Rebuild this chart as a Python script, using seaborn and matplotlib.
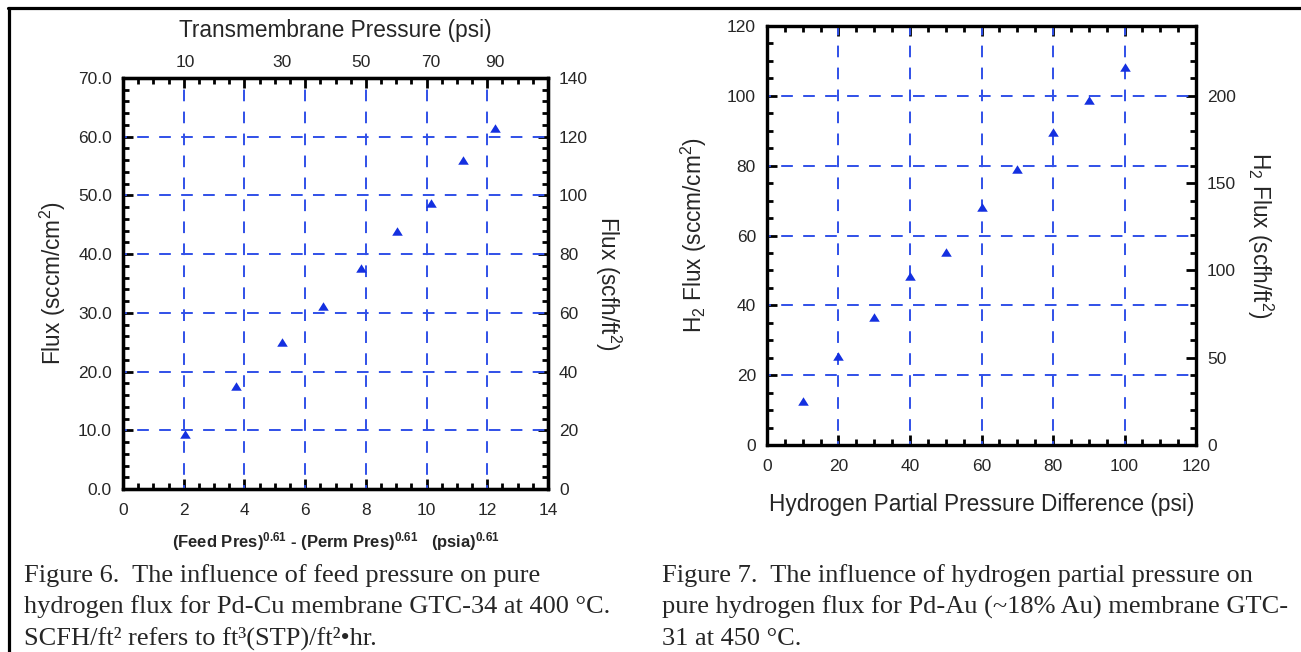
"""
Pd membrane hydrogen flux figures (Figure 6 / Figure 7) redrawn with seaborn
"""

import matplotlib
matplotlib.use('Agg')
import matplotlib.pyplot as plt
import seaborn as sns
import pandas as pd
from matplotlib.lines import Line2D
from matplotlib.ticker import MultipleLocator

sns.set_style('ticks')
plt.rcParams['font.family'] = ['Liberation Sans', 'DejaVu Sans']
plt.rcParams['mathtext.fontset'] = 'custom'
plt.rcParams['mathtext.rm'] = 'Liberation Sans'
plt.rcParams['mathtext.it'] = 'Liberation Sans:italic'
plt.rcParams['mathtext.bf'] = 'Liberation Sans:bold'

# ---------------- data ----------------
# Figure 6: Pd-Cu GTC-34, 400 C
fig6_psi = [10, 20, 30, 40, 50, 60, 70, 80, 90]              # transmembrane pressure
fig6_x = [2.05, 3.73, 5.25, 6.6, 7.85, 9.03, 10.15, 11.2, 12.25]  # (feed)^0.61-(perm)^0.61
fig6_flux = [9.3, 17.6, 25.0, 31.1, 37.6, 44.0, 48.7, 56.0, 61.4]  # sccm/cm2

# Figure 7: Pd-Au GTC-31, 450 C
fig7_dp = [10, 20, 30, 40, 50, 60, 70, 80, 90, 100]
fig7_flux = [12.6, 25.5, 36.7, 48.3, 55.2, 68.3, 79.0, 89.7, 98.9, 108.3]

scfh_factor = 2.0   # right axis scale scfh/ft2 per sccm/cm2

caption6 = ["Figure 6.  The influence of feed pressure on pure",
            "hydrogen flux for Pd-Cu membrane GTC-34 at 400 °C.",
            "SCFH/ft² refers to ft³(STP)/ft²•hr."]
caption7 = ["Figure 7.  The influence of hydrogen partial pressure on",
            "pure hydrogen flux for Pd-Au (~18% Au) membrane GTC-",
            "31 at 450 °C."]

df6 = pd.DataFrame({'x': fig6_x, 'flux': fig6_flux, 'psi': fig6_psi})
df7 = pd.DataFrame({'dp': fig7_dp, 'flux': fig7_flux})

W, H = 1301, 652
fig = plt.figure(figsize=(W / 100, H / 100), dpi=100)
fig.patch.set_facecolor('white')

mk_color = '#1430e0'
grid_color = '#3050e8'
grid_ls = (4, (6, 5.3))
tri = [(0, 0.8), (-1, -0.8), (1, -0.8)]   # slightly flat triangle marker
TICK_FS = 12.5
LAB_FS = 16.3


def style_axis(ax):
    for s in ax.spines.values():
        s.set_linewidth(2.3)
        s.set_color('black')
        s.set_zorder(4)
    ax.tick_params(which='major', direction='in', length=7.5, width=2, labelsize=TICK_FS,
                   color='black')
    ax.tick_params(which='minor', direction='in', length=4.3, width=2, color='black')
    ax.tick_params(axis='x', pad=10)
    ax.tick_params(axis='y', pad=8)


def draw_grid(ax, xs, ys, x0, x1, y0, y1):
    for xv in xs:
        ax.plot([xv, xv], [y0, y1], ls=grid_ls, color=grid_color, lw=1.4, zorder=1)
    for yv in ys:
        ax.plot([x0, x1], [yv, yv], ls=grid_ls, color=grid_color, lw=1.4, zorder=1)


# ============================================================================
# Figure 6
# ============================================================================
ax1 = fig.add_axes([123 / W, 1 - 489 / H, 425 / W, 411 / H])
sns.scatterplot(data=df6, x='x', y='flux', ax=ax1, marker=tri, s=58, color=mk_color,
                edgecolor=mk_color, linewidth=0, zorder=3, legend=False)
draw_grid(ax1, range(2, 14, 2), range(10, 70, 10), 0, 14, 0, 70)
ax1.set_xlim(0, 14)
ax1.set_ylim(0, 70)
ax1.xaxis.set_major_locator(MultipleLocator(2))
ax1.xaxis.set_minor_locator(MultipleLocator(0.5))
ax1.yaxis.set_major_locator(MultipleLocator(10))
ax1.yaxis.set_minor_locator(MultipleLocator(2))
ax1.yaxis.set_major_formatter(plt.FormatStrFormatter('%.1f'))
ax1.set_xlabel(r'(Feed Pres)$^{\mathbf{0.61}}$ - (Perm Pres)$^{\mathbf{0.61}}$   (psia)$^{\mathbf{0.61}}$',
               fontsize=12, fontweight='bold', labelpad=9)
ax1.set_ylabel('Flux (sccm/cm$^2$)', fontsize=LAB_FS, labelpad=7)

ax1r = ax1.twinx()
ax1r.set_ylim(0, 70 * scfh_factor)
ax1r.yaxis.set_major_locator(MultipleLocator(20))
ax1r.yaxis.set_minor_locator(MultipleLocator(4))
ax1r.set_ylabel('Flux (scfh/ft$^2$)', fontsize=LAB_FS, rotation=270, labelpad=25)

ax1t = ax1.twiny()
ax1t.set_xlim(0, 14)
ax1t.set_xticks(fig6_x[::2])
ax1t.set_xticklabels([str(p) for p in fig6_psi[::2]])
ax1t.set_xlabel('Transmembrane Pressure (psi)', fontsize=LAB_FS, labelpad=13)

for a in (ax1, ax1r, ax1t):
    style_axis(a)
ax1t.tick_params(which='major', length=0, pad=5.5)
ax1.tick_params(which='both', top=True, labeltop=False)
ax1.set_zorder(2)
ax1.patch.set_visible(False)

# ============================================================================
# Figure 7
# ============================================================================
ax2 = fig.add_axes([767 / W, 1 - 445 / H, 429 / W, 419 / H])
sns.scatterplot(data=df7, x='dp', y='flux', ax=ax2, marker=tri, s=58, color=mk_color,
                edgecolor=mk_color, linewidth=0, zorder=3, legend=False)
draw_grid(ax2, range(20, 120, 20), range(20, 120, 20), 0, 120, 0, 120)
ax2.set_xlim(0, 120)
ax2.set_ylim(0, 120)
ax2.xaxis.set_major_locator(MultipleLocator(20))
ax2.xaxis.set_minor_locator(MultipleLocator(5))
ax2.yaxis.set_major_locator(MultipleLocator(20))
ax2.yaxis.set_minor_locator(MultipleLocator(5))
ax2.set_xlabel('Hydrogen Partial Pressure Difference (psi)', fontsize=LAB_FS, labelpad=14)
ax2.set_ylabel('H$_2$ Flux (sccm/cm$^2$)', fontsize=LAB_FS, labelpad=13)

ax2r = ax2.twinx()
ax2r.set_ylim(0, 120 * scfh_factor)
ax2r.yaxis.set_major_locator(MultipleLocator(50))
ax2r.yaxis.set_minor_locator(MultipleLocator(10))
ax2r.set_ylabel('H$_2$ Flux (scfh/ft$^2$)', fontsize=LAB_FS, rotation=270, labelpad=28)

for a in (ax2, ax2r):
    style_axis(a)
ax2.tick_params(which='both', top=True, labeltop=False)
ax2.set_zorder(2)
ax2.patch.set_visible(False)

# ============================================================================
# captions and page rules
# ============================================================================
for i, line in enumerate(caption6):
    fig.text(24.5 / W, 1 - (582 + 31.5 * i) / H, line, fontsize=19, va='baseline',
             family=['Liberation Serif', 'DejaVu Serif'])
for i, line in enumerate(caption7):
    fig.text(662 / W, 1 - (582 + 31.5 * i) / H, line, fontsize=19, va='baseline',
             family=['Liberation Serif', 'DejaVu Serif'])

fig.add_artist(Line2D([8 / W, 1], [1 - 8 / H, 1 - 8 / H], transform=fig.transFigure,
                      color='black', lw=2.3))
fig.add_artist(Line2D([9 / W, 9 / W], [0, 1 - 8 / H], transform=fig.transFigure,
                      color='black', lw=2.3))

plt.savefig('out.png', dpi=100)
plt.close()
